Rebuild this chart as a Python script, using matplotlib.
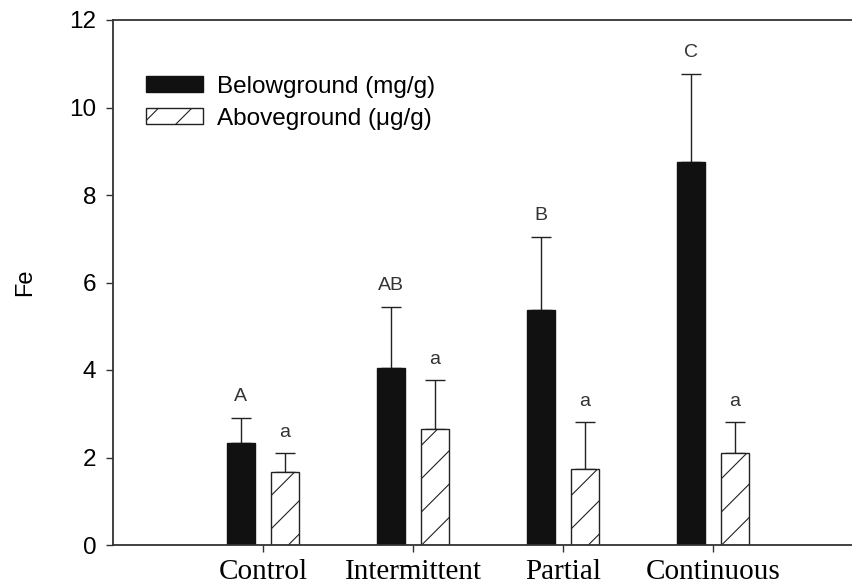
import numpy as np
import matplotlib
matplotlib.use("Agg")
import matplotlib.pyplot as plt

# Fe concentration by flooding treatment
treatments = ["Control", "Intermittent", "Partial", "Continuous"]
below_mean = [2.33, 4.05, 5.37, 8.75]
below_err = [0.58, 1.39, 1.67, 2.02]
above_mean = [1.67, 2.65, 1.74, 2.10]
above_err = [0.43, 1.12, 1.07, 0.71]
below_letters = ["A", "AB", "B", "C"]
above_letters = ["a", "a", "a", "a"]

plt.rcParams['hatch.linewidth'] = 0.8
plt.rcParams['font.family'] = ['Liberation Sans', 'DejaVu Sans']

fig = plt.figure(figsize=(8.52, 5.86), dpi=100)
ax = fig.add_axes([113/852, 41/586, 1 - 113/852, 525/586])

x = np.arange(len(treatments))
w = 0.187
off = 0.147

ax.bar(x - off, below_mean, w, color='#111111', edgecolor='#111111',
       linewidth=1, label='Belowground (mg/g)', zorder=2)
ax.bar(x + off, above_mean, w, color='white', edgecolor='#222222',
       linewidth=1, hatch='/', label='Aboveground (\u03bcg/g)', zorder=2)

ekw = dict(fmt='none', ecolor='#222222', elinewidth=1, capsize=7, capthick=1, zorder=1)
ax.errorbar(x - off, below_mean, yerr=[np.zeros(4), below_err], **ekw)
ax.errorbar(x + off, above_mean, yerr=[np.zeros(4), above_err], **ekw)

# significance letters above the error caps
for i in range(len(treatments)):
    ax.annotate(below_letters[i], (x[i] - off, below_mean[i] + below_err[i]),
                xytext=(0, 9), textcoords='offset points', ha='center', va='bottom',
                fontsize=14, color='#333333')
    ax.annotate(above_letters[i], (x[i] + off, above_mean[i] + above_err[i]),
                xytext=(0, 9), textcoords='offset points', ha='center', va='bottom',
                fontsize=14, color='#333333')

ax.set_xlim(-1, 3.927)
ax.set_ylim(0, 12)
ax.set_yticks(range(0, 13, 2))
ax.set_xticks(x)
ax.set_xticklabels(treatments, family=['Liberation Serif', 'DejaVu Serif'], fontsize=21)
ax.tick_params(axis='y', labelsize=17.5, length=5, width=1, color='#333333', pad=7)
ax.tick_params(axis='x', length=5, width=1, color='#333333', pad=5)

for s in ['left', 'bottom', 'top']:
    ax.spines[s].set_color('#333333')
    ax.spines[s].set_linewidth(1.3)
ax.spines['right'].set_visible(False)

ax.set_ylabel('Fe', fontsize=17, labelpad=24)

ax.legend(loc='upper left', bbox_to_anchor=(0.031, 0.912), frameon=False, fontsize=17.5,
          handlelength=2.35, handleheight=0.62, handletextpad=0.6, labelspacing=0.4,
          borderaxespad=0)

fig.savefig('out.png', dpi=100)
